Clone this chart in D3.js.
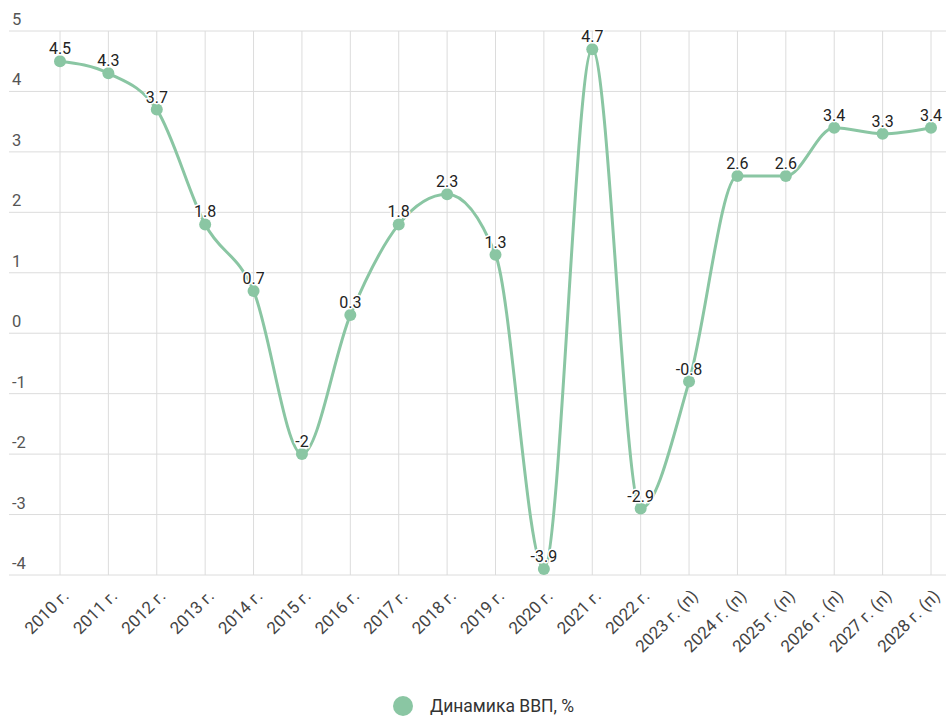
<!DOCTYPE html>
<html>
<head>
<meta charset="utf-8">
<script src="https://cdn.jsdelivr.net/npm/d3@7/dist/d3.min.js"></script>
<style>
  html, body { margin: 0; padding: 0; background: #fff; }
  svg { display: block; font-family: Roboto, "Noto Sans", sans-serif; }
</style>
</head>
<body>
<svg id="chart" width="947" height="716"></svg>
<script>
// Годы (п — прогноз)
const years = ["2010 г.", "2011 г.", "2012 г.", "2013 г.", "2014 г.", "2015 г.", "2016 г.",
  "2017 г.", "2018 г.", "2019 г.", "2020 г.", "2021 г.", "2022 г.", "2023 г. (п)",
  "2024 г. (п)", "2025 г. (п)", "2026 г. (п)", "2027 г. (п)", "2028 г. (п)"];
// Динамика ВВП, %
const gdp = [4.5, 4.3, 3.7, 1.8, 0.7, -2, 0.3, 1.8, 2.3, 1.3, -3.9, 4.7, -2.9, -0.8, 2.6, 2.6, 3.4, 3.3, 3.4];
const yTicks = [-4, -3, -2, -1, 0, 1, 2, 3, 4, 5];
const seriesName = "Динамика ВВП, %";

const color = "#8ac6a3";
const svg = d3.select("#chart");

const x = d3.scalePoint().domain(years).range([60, 931]);
const y = d3.scaleLinear().domain([-4, 5]).range([575, 31]);

// горизонтальная сетка и подписи оси Y
const gy = svg.append("g");
gy.selectAll("line").data(yTicks).join("line")
  .attr("x1", 9).attr("x2", 946)
  .attr("y1", d => y(d)).attr("y2", d => y(d))
  .attr("stroke", "#dcdcdc").attr("stroke-width", 1);
gy.selectAll("text").data(yTicks).join("text")
  .attr("x", 12).attr("y", d => y(d) - 6)
  .attr("font-size", 16.5).attr("fill", "#555")
  .text(d => d);

// вертикальная сетка
svg.append("g").selectAll("line").data(years).join("line")
  .attr("x1", d => x(d)).attr("x2", d => x(d))
  .attr("y1", y(5)).attr("y2", y(-4))
  .attr("stroke", "#dcdcdc").attr("stroke-width", 1);

// подписи оси X
svg.append("g").selectAll("text").data(years).join("text")
  .attr("transform", d => `translate(${x(d) + 10},${y(-4) + 22}) rotate(-45)`)
  .attr("text-anchor", "end")
  .attr("font-size", 17).attr("fill", "#444")
  .text(d => d);

// линия
const line = d3.line()
  .x((d, i) => x(years[i]))
  .y(d => y(d))
  .curve(d3.curveMonotoneX);
svg.append("path").datum(gdp)
  .attr("d", line)
  .attr("fill", "none")
  .attr("stroke", color)
  .attr("stroke-width", 3);

// точки
svg.append("g").selectAll("circle").data(gdp).join("circle")
  .attr("cx", (d, i) => x(years[i]))
  .attr("cy", d => y(d))
  .attr("r", 6)
  .attr("fill", color);

// подписи значений
svg.append("g").selectAll("text").data(gdp).join("text")
  .attr("x", (d, i) => x(years[i]))
  .attr("y", d => y(d) - 7)
  .attr("text-anchor", "middle")
  .attr("font-size", 16).attr("fill", "#222")
  .attr("stroke", "#fff").attr("stroke-width", 3)
  .attr("stroke-linejoin", "round")
  .attr("paint-order", "stroke")
  .text(d => d);

// легенда
const lg = svg.append("g");
lg.append("circle").attr("cx", 403).attr("cy", 706).attr("r", 10).attr("fill", color);
lg.append("text").attr("x", 430).attr("y", 712)
  .attr("font-size", 17.5).attr("fill", "#333")
  .text(seriesName);
</script>
</body>
</html>
